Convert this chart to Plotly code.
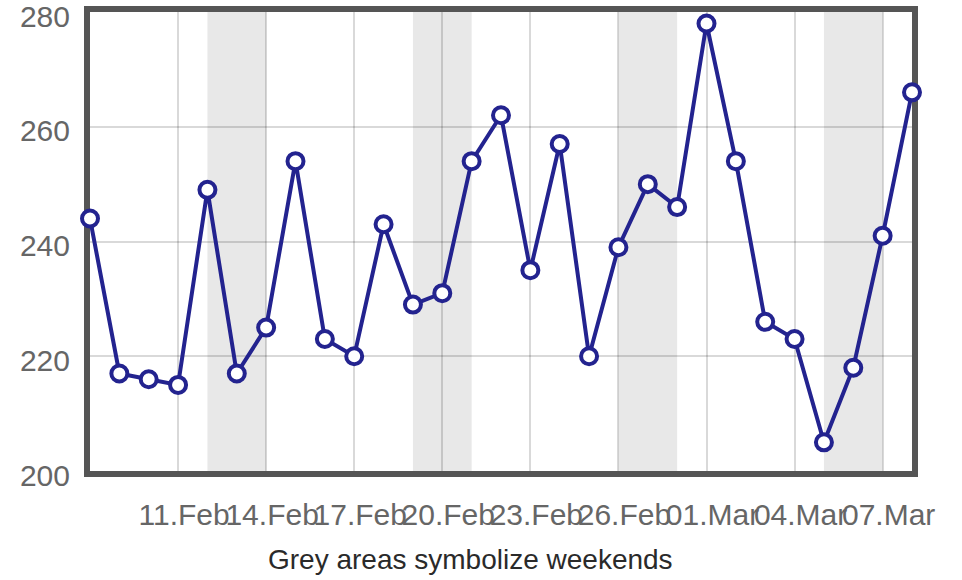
import plotly.graph_objects as go

dates = [
    "2015-02-08", "2015-02-09", "2015-02-10", "2015-02-11", "2015-02-12", "2015-02-13",
    "2015-02-14", "2015-02-15", "2015-02-16", "2015-02-17", "2015-02-18", "2015-02-19",
    "2015-02-20", "2015-02-21", "2015-02-22", "2015-02-23", "2015-02-24", "2015-02-25",
    "2015-02-26", "2015-02-27", "2015-02-28", "2015-03-01", "2015-03-02", "2015-03-03",
    "2015-03-04", "2015-03-05", "2015-03-06", "2015-03-07", "2015-03-08",
]
values = [244, 217, 216, 215, 249, 217, 225, 254, 223, 220, 243, 229, 231, 254, 262,
          235, 257, 220, 239, 250, 246, 278, 254, 226, 223, 205, 218, 241, 266]

weekend_starts = ["2015-02-12", "2015-02-19", "2015-02-26", "2015-03-05"]
weekend_ends = ["2015-02-14", "2015-02-21", "2015-02-28", "2015-03-07"]

tick_vals = ["2015-02-11", "2015-02-14", "2015-02-17", "2015-02-20", "2015-02-23",
             "2015-02-26", "2015-03-01", "2015-03-04", "2015-03-07"]
tick_text = ["11.Feb", "14.Feb", "17.Feb", "20.Feb", "23.Feb", "26.Feb",
             "01.Mar", "04.Mar", "07.Mar"]
y_ticks = [200, 220, 240, 260, 280]
x_title = "Grey areas symbolize weekends"

line_color = "#23238f"
font_family = "Liberation Sans, Arial, sans-serif"

fig = go.Figure()
fig.add_trace(go.Scatter(
    x=dates, y=values, mode="lines+markers",
    line=dict(color=line_color, width=4),
    marker=dict(size=16, color="white", line=dict(color=line_color, width=4)),
    cliponaxis=False, showlegend=False, hoverinfo="skip",
))

for s, e in zip(weekend_starts, weekend_ends):
    fig.add_shape(type="rect", xref="x", yref="paper", x0=s, x1=e, y0=0, y1=1,
                  fillcolor="#e8e8e8", line=dict(width=0), layer="below")

fig.add_annotation(text=x_title, xref="paper", yref="paper", x=0.4635, y=0,
                   yshift=-88, showarrow=False, xanchor="center", yanchor="middle",
                   font=dict(family=font_family, size=28, color="#2a2a2a"))

fig.update_layout(
    width=962, height=580,
    margin=dict(l=90, r=50, t=12, b=109, autoexpand=False),
    paper_bgcolor="white", plot_bgcolor="rgba(0,0,0,0)",
    font=dict(family=font_family, size=30, color="#666666"),
    xaxis=dict(
        type="date", range=[dates[0], dates[-1]], automargin=False,
        tickvals=tick_vals, ticktext=tick_text, tickangle=0,
        showgrid=True, gridcolor="rgba(0,0,0,0.15)", gridwidth=2,
        showline=True, linecolor="#555555", linewidth=6, mirror=True,
        ticks="", zeroline=False, layer="below traces",
        ticklabelstandoff=12, ticklabelshift=6, ticklabeloverflow="allow",
        tickfont=dict(size=30, color="#666666"),
    ),
    yaxis=dict(
        range=[200, 280], tickvals=y_ticks, automargin=False,
        showgrid=True, gridcolor="rgba(0,0,0,0.15)", gridwidth=2,
        showline=True, linecolor="#555555", linewidth=6, mirror=True,
        ticks="", zeroline=False, layer="below traces",
        ticklabelstandoff=8, ticklabelshift=4, ticklabeloverflow="allow",
        tickfont=dict(size=30, color="#666666"),
    ),
)

fig.write_html("out.html", config={"displayModeBar": False},
               post_script="document.body.style.margin='0';")
